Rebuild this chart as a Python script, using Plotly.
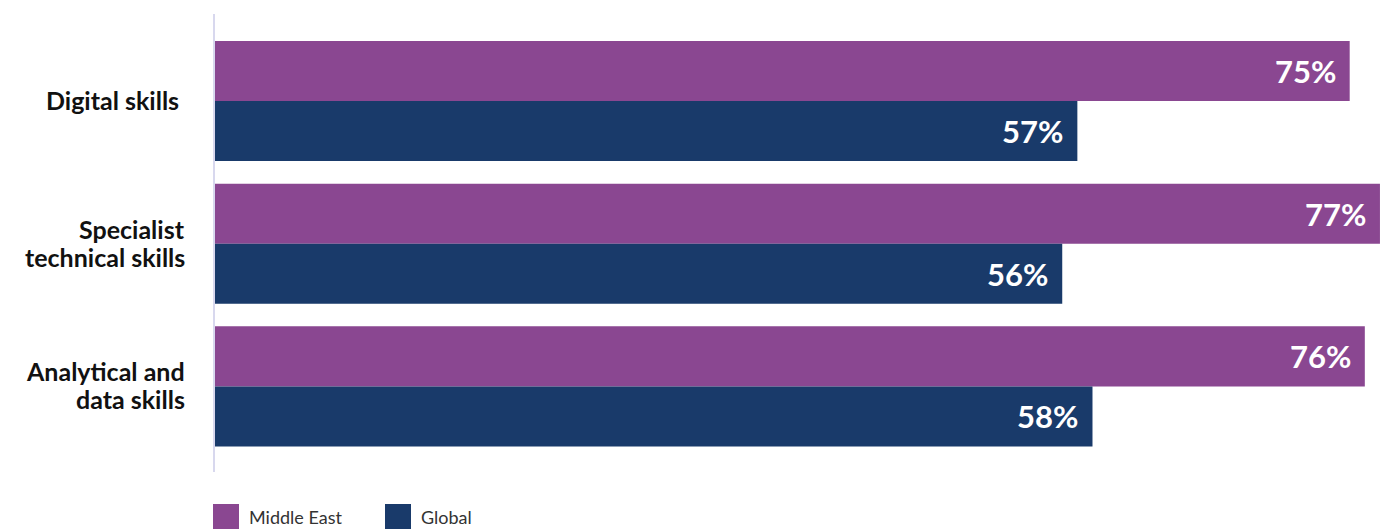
import plotly.graph_objects as go

# Data
categories = ["Digital skills", "Specialist technical skills", "Analytical and data skills"]
category_lines = [["Digital skills\u00a0"], ["Specialist", "technical skills"], ["Analytical and", "data skills"]]
series_names = ["Middle East", "Global"]
middle_east = [75, 77, 76]
global_vals = [57, 56, 58]

PURPLE = "#8A4791"
NAVY = "#193A6A"
AXIS = "#D8D8EE"

W, H = 1386, 529
ML, MR, MT, MB = 215, 0, 14, 57
PW, PH = W - ML - MR, H - MT - MB

def px_x(x):
    return (x - ML) / PW

def px_y(y):
    return (H - MB - y) / PH

fig = go.Figure()
for name, vals, col in [(series_names[0], middle_east, PURPLE), (series_names[1], global_vals, NAVY)]:
    fig.add_trace(go.Bar(
        y=categories, x=vals, name=name, orientation="h",
        marker=dict(color=col, line=dict(width=0)),
        showlegend=False, hoverinfo="skip",
    ))

annotations = []

# category labels, one annotation per line for tight line spacing
LINE_STEP = 28
for cat, lines in zip(categories, category_lines):
    n = len(lines)
    for i, line in enumerate(lines):
        annotations.append(dict(
            x=px_x(187), y=cat, xref="paper", yref="y", text=line,
            showarrow=False, xanchor="right", yanchor="middle",
            yshift=-(i - (n - 1) / 2) * LINE_STEP + 1,
            font=dict(family="Lato", size=25, color="#111111", weight="bold"),
        ))

# value labels inside the bar ends
for vals, shift in [(middle_east, 30), (global_vals, -30)]:
    for cat, v in zip(categories, vals):
        annotations.append(dict(
            x=v, y=cat, xref="x", yref="y", text=f"{v}%",
            showarrow=False, xanchor="right", yanchor="middle",
            xshift=-12, yshift=shift,
            font=dict(family="Lato", size=31, color="white", weight="bold"),
        ))

# legend drawn below the plot
shapes = []
legend_items = [(series_names[0], PURPLE, 213), (series_names[1], NAVY, 385)]
for name, col, x0 in legend_items:
    shapes.append(dict(
        type="rect", xref="paper", yref="paper",
        x0=px_x(x0), x1=px_x(x0 + 26), y0=px_y(531), y1=px_y(504),
        fillcolor=col, line=dict(width=0), layer="above",
    ))
    annotations.append(dict(
        x=px_x(x0 + 34), y=px_y(517), xref="paper", yref="paper",
        text=name, showarrow=False, xanchor="left", yanchor="middle",
        font=dict(family="Lato", size=18, color="#333333"),
    ))

fig.update_layout(
    width=W, height=H,
    margin=dict(l=ML, r=MR, t=MT, b=MB, pad=0),
    paper_bgcolor="white", plot_bgcolor="white",
    barmode="group", bargap=0.158, bargroupgap=0,
    xaxis=dict(range=[0, 77.4], showgrid=False, zeroline=False,
               showticklabels=False, showline=False, fixedrange=True),
    yaxis=dict(range=[2.6, -0.61], showgrid=False, zeroline=False,
               showline=True, linecolor=AXIS, linewidth=2,
               ticks="", showticklabels=False, fixedrange=True),
    annotations=annotations,
    shapes=shapes,
    showlegend=False,
)

fig.write_html("out.html")
